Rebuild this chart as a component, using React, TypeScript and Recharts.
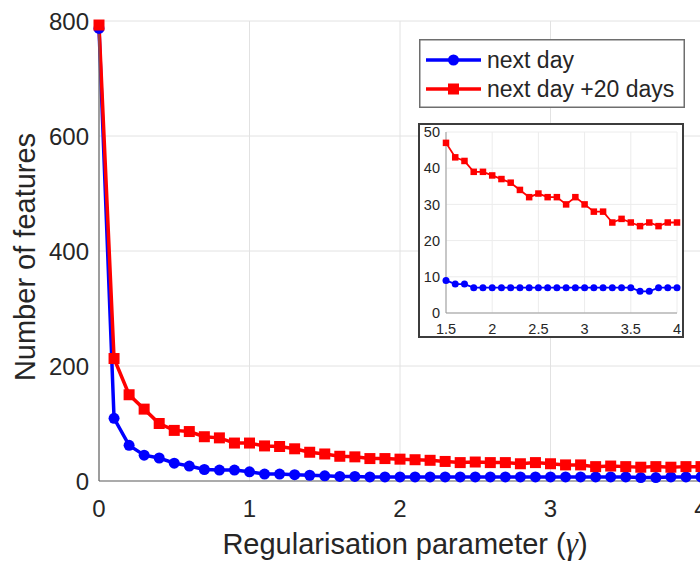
import React from 'react';
import { LineChart, Line, XAxis, YAxis, CartesianGrid, Legend } from 'recharts';

// ---- data ----
const gammaValues = [
  0, 0.1, 0.2, 0.3, 0.4, 0.5, 0.6, 0.7, 0.8, 0.9,
  1.0, 1.1, 1.2, 1.3, 1.4, 1.5, 1.6, 1.7, 1.8, 1.9,
  2.0, 2.1, 2.2, 2.3, 2.4, 2.5, 2.6, 2.7, 2.8, 2.9,
  3.0, 3.1, 3.2, 3.3, 3.4, 3.5, 3.6, 3.7, 3.8, 3.9, 4.0,
];
const nextDayValues = [
  787, 109, 62, 45, 40, 31, 26, 20, 19, 19,
  16, 12, 12, 11, 10, 9, 8, 8, 7, 7,
  7, 7, 7, 7, 7, 7, 7, 7, 7, 7,
  7, 7, 7, 7, 7, 7, 6, 6, 7, 7, 7,
];
const nextDay20Values = [
  793, 213, 150, 125, 100, 88, 86, 77, 75, 66,
  66, 61, 60, 56, 50, 47, 43, 42, 39, 39,
  38, 37, 36, 34, 32, 33, 32, 32, 30, 32,
  30, 28, 28, 25, 26, 25, 24, 25, 24, 25, 25,
];
const seriesNames = ['next day', 'next day +20 days'];
const seriesColors = ['#0000ff', '#ff0000'];
const mainXTicks = [0, 1, 2, 3, 4];
const mainYTicks = [0, 200, 400, 600, 800];
const insetStart = 1.5;
const insetXTicks = [1.5, 2, 2.5, 3, 3.5, 4];
const insetYTicks = [0, 10, 20, 30, 40, 50];
const xAxisTitle = 'Regularisation parameter (';
const yAxisTitle = 'Number of features';

const mainData = gammaValues.map((x, i) => ({
  x,
  nextDay: nextDayValues[i],
  nextDay20: nextDay20Values[i],
}));
const insetData = mainData.filter((d) => d.x >= insetStart - 1e-9);

const FONT = '"Liberation Sans", Arial, Helvetica, sans-serif';
const TEXT = '#262626';

const makeSquare = (size: number, color: string) => (props: any) => {
  const { cx, cy, index } = props;
  if (cx == null || cy == null) return <g key={`sq-${index}`} />;
  return (
    <rect
      key={`sq-${index}`}
      x={cx - size / 2}
      y={cy - size / 2}
      width={size}
      height={size}
      fill={color}
    />
  );
};

const XTitle = (props: any) => {
  const vb = props.viewBox || {};
  const cx = vb.x + vb.width / 2 + 5;
  return (
    <text x={cx} y={554} textAnchor="middle" fill={TEXT} fontSize={29} fontFamily={FONT}>
      {xAxisTitle}
      <tspan fontFamily='"Liberation Serif", "Times New Roman", serif' fontStyle="italic" fontSize={31}>γ</tspan>
      )
    </text>
  );
};

const YTitle = (props: any) => {
  const vb = props.viewBox || {};
  const cy = vb.y + vb.height / 2 + 6;
  const x = 35;
  return (
    <text
      x={x}
      y={cy}
      transform={`rotate(-90, ${x}, ${cy})`}
      textAnchor="middle"
      fill={TEXT}
      fontSize={29}
      fontFamily={FONT}
    >
      {yAxisTitle}
    </text>
  );
};

const LegendBox = (props: any) => {
  const payload = props.payload || [];
  return (
    <svg width={266} height={69} style={{ display: 'block' }}>
      <rect x={0.75} y={0.75} width={264.5} height={67.5} fill="#fff" stroke="#6e6e6e" strokeWidth={1.5} />
      {payload.map((entry: any, i: number) => {
        const cy = 21 + i * 29;
        const color = entry.color;
        return (
          <g key={entry.value}>
            <line x1={7} x2={62} y1={cy} y2={cy} stroke={color} strokeWidth={3.5} />
            {i === 0 ? (
              <circle cx={34.5} cy={cy} r={5.5} fill={color} />
            ) : (
              <rect x={29} y={cy - 5.5} width={11} height={11} fill={color} />
            )}
            <text x={68} y={cy + 8} fill={TEXT} fontSize={23} fontFamily={FONT}>
              {entry.value}
            </text>
          </g>
        );
      })}
    </svg>
  );
};

export default function App() {
  return (
    <div
      style={{
        position: 'fixed',
        left: 0,
        top: 0,
        width: 700,
        height: 561,
        overflow: 'hidden',
        background: '#fff',
      }}
    >
      <LineChart
        width={720}
        height={561}
        data={mainData}
        margin={{ top: 21, right: 19, bottom: 0, left: 0 }}
      >
        <CartesianGrid stroke="#e2e2e2" />
        <XAxis
          dataKey="x"
          type="number"
          domain={[0, 4]}
          ticks={mainXTicks}
          height={80}
          tickSize={0}
          tickMargin={19}
          axisLine={{ stroke: '#666', strokeWidth: 1.2 }}
          tick={{ fill: TEXT, fontSize: 24, fontFamily: FONT }}
          label={{ content: XTitle }}
        />
        <YAxis
          type="number"
          domain={[0, 800]}
          ticks={mainYTicks}
          width={99}
          tickSize={0}
          tickMargin={10}
          axisLine={{ stroke: '#666', strokeWidth: 1.2 }}
          tick={{ fill: TEXT, fontSize: 24, fontFamily: FONT }}
          label={{ content: YTitle }}
        />
        <Line
          dataKey="nextDay"
          name={seriesNames[0]}
          stroke={seriesColors[0]}
          strokeWidth={3.5}
          dot={{ r: 5.5, fill: seriesColors[0], stroke: seriesColors[0], strokeWidth: 0 }}
          isAnimationActive={false}
        />
        <Line
          dataKey="nextDay20"
          name={seriesNames[1]}
          stroke={seriesColors[1]}
          strokeWidth={3.5}
          dot={makeSquare(11, seriesColors[1])}
          isAnimationActive={false}
        />
        <Legend
          layout="vertical"
          align="center"
          verticalAlign="middle"
          content={LegendBox}
          wrapperStyle={{ position: 'absolute', left: 419, top: 39, width: 266, height: 69 }}
        />
      </LineChart>

      <div
        style={{
          position: 'absolute',
          left: 418,
          top: 123,
          width: 266,
          height: 215,
          background: '#fff',
        }}
      >
        <LineChart
          width={266}
          height={215}
          data={insetData}
          margin={{ top: 9, right: 7, bottom: 0, left: 0 }}
        >
          <CartesianGrid stroke="#ececec" />
          <XAxis
            dataKey="x"
            type="number"
            domain={[1.5, 4]}
            ticks={insetXTicks}
            height={25}
            tickSize={0}
            tickMargin={11}
            axisLine={{ stroke: '#999' }}
            tick={{ fill: TEXT, fontSize: 14.5, fontFamily: FONT }}
          />
          <YAxis
            type="number"
            domain={[0, 50]}
            ticks={insetYTicks}
            width={28}
            tickSize={0}
            tickMargin={6}
            axisLine={{ stroke: '#999' }}
            tick={{ fill: TEXT, fontSize: 14.5, fontFamily: FONT }}
          />
          <Line
            dataKey="nextDay"
            name={seriesNames[0]}
            stroke={seriesColors[0]}
            strokeWidth={1.8}
            dot={{ r: 3.5, fill: seriesColors[0], stroke: seriesColors[0], strokeWidth: 0 }}
            isAnimationActive={false}
          />
          <Line
            dataKey="nextDay20"
            name={seriesNames[1]}
            stroke={seriesColors[1]}
            strokeWidth={1.8}
            dot={makeSquare(6.5, seriesColors[1])}
            isAnimationActive={false}
          />
        </LineChart>
        <div
          style={{
            position: 'absolute',
            inset: 0,
            border: '2px solid #3c3c3c',
            boxSizing: 'border-box',
            pointerEvents: 'none',
          }}
        />
      </div>
    </div>
  );
}
